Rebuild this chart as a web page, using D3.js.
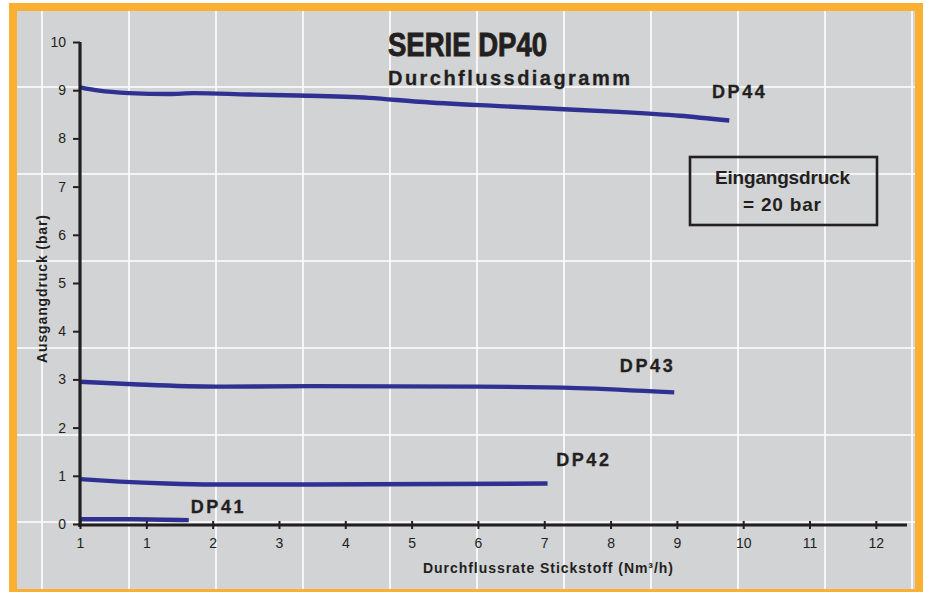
<!DOCTYPE html>
<html><head><meta charset="utf-8">
<script src="https://cdn.jsdelivr.net/npm/d3@7"></script>
<style>
body{margin:0;background:#fff}
svg{display:block}
text{font-family:"Liberation Sans Narrow","Arial Narrow","Liberation Sans",sans-serif;fill:#231f20}
</style>
</head><body><svg id="c" width="926" height="592"></svg>
<script>
// ---------- data ----------
const seriesNames = ["DP44", "DP43", "DP42", "DP41"];
const dp44X = [0, 0.29, 0.74, 1.34, 1.72, 2.55, 3.30, 4.36, 5.11, 6.32, 7.22, 8.13, 9.04, 9.79];
const dp44Y = [9.06, 8.99, 8.94, 8.92, 8.94, 8.91, 8.89, 8.84, 8.76, 8.67, 8.61, 8.55, 8.47, 8.37];
const dp43X = [0, 0.8, 2.05, 3.5, 6.0, 7.5, 8.96];
const dp43Y = [2.95, 2.90, 2.85, 2.86, 2.85, 2.82, 2.73];
const dp42X = [0, 0.6, 1.3, 2.0, 3.5, 5.5, 7.05];
const dp42Y = [0.93, 0.88, 0.84, 0.82, 0.82, 0.83, 0.84];
const dp41X = [0, 0.8, 1.64];
const dp41Y = [0.10, 0.10, 0.08];
const labelX = [9.53, 8.14, 7.18, 1.67];
const labelY = [8.84, 3.15, 1.20, 0.23];
const xTickValues = [0, 1, 2, 3, 4, 5, 6, 7, 8, 9, 10, 11, 12];
const xTickLabels = ["1", "1", "2", "3", "4", "5", "6", "7", "8", "9", "10", "11", "12"];
const yTickValues = [0, 1, 2, 3, 4, 5, 6, 7, 8, 9, 10];
const titleText = "SERIE DP40";
const subtitleText = "Durchflussdiagramm";
const xTitle = "Durchflussrate Stickstoff (Nm³/h)";
const yTitle = "Ausgangdruck (bar)";
const noteLines = ["Eingangsdruck", "= 20 bar"];

// ---------- setup ----------
const svg = d3.select("#c");
const W = 926, H = 592;
const orange = "#fbb034", panel = "#d1d3d4", ink = "#231f20", blue = "#2e3192";

svg.append("rect").attr("x", 0).attr("y", 0).attr("width", W).attr("height", H).attr("fill", "#fff");
svg.append("rect").attr("x", 9).attr("y", 3).attr("width", 914).attr("height", 600).attr("fill", orange);
const px0 = 17, py0 = 11, px1 = 915, py1 = 589;
svg.append("rect").attr("x", px0).attr("y", py0).attr("width", px1 - px0).attr("height", py1 - py0).attr("fill", panel);

// decorative background grid
const gStep = 87;
const gridG = svg.append("g").attr("stroke", "#fff").attr("stroke-width", 1.6);
d3.range(42, px1, gStep).forEach(gx => {
  gridG.append("line").attr("x1", gx).attr("x2", gx).attr("y1", py0).attr("y2", py1);
});
d3.range(87, py1, gStep).forEach(gy => {
  gridG.append("line").attr("x1", px0).attr("x2", px1).attr("y1", gy).attr("y2", gy);
});

// scales
const x = d3.scaleLinear().domain([0, 12.47]).range([80, 907]);
const y = d3.scaleLinear().domain([0, 10]).range([524, 42]);

// series lines
const seriesX = [dp44X, dp43X, dp42X, dp41X];
const seriesY = [dp44Y, dp43Y, dp42Y, dp41Y];
const line = d3.line().x(d => x(d[0])).y(d => y(d[1])).curve(d3.curveMonotoneX);
seriesNames.forEach((name, i) => {
  const pts = seriesX[i].map((v, j) => [v, seriesY[i][j]]);
  svg.append("path").datum(pts).attr("d", line)
    .attr("fill", "none").attr("stroke", blue).attr("stroke-width", 4.4)
    .attr("stroke-linecap", "butt").attr("stroke-linejoin", "round");
});

// y axis
const yAxis = svg.append("g").attr("transform", `translate(${x(0)},0)`)
  .call(d3.axisLeft(y).tickValues(yTickValues).tickSize(7).tickSizeOuter(0).tickPadding(7));
yAxis.select(".domain").attr("stroke", ink).attr("stroke-width", 3.2)
  .attr("d", `M0,${y(10)}V${y(0) + 3}`);
yAxis.selectAll(".tick line").attr("stroke", ink).attr("stroke-width", 2);
yAxis.selectAll(".tick text").attr("font-size", 14).attr("fill", ink)
  .style("font-family", '"Liberation Sans Narrow","Arial Narrow","Liberation Sans",sans-serif');

// x axis
const xAxis = svg.append("g").attr("transform", `translate(0,${y(0) + 1})`)
  .call(d3.axisBottom(x).tickValues(xTickValues).tickFormat((d, i) => xTickLabels[i]).tickSize(4).tickSizeOuter(0));
xAxis.select(".domain").attr("stroke", ink).attr("stroke-width", 3.2)
  .attr("d", `M${x(0) - 2},0H907`);
xAxis.selectAll(".tick line").attr("stroke", ink).attr("stroke-width", 2).attr("y1", -4).attr("y2", 4);
xAxis.selectAll(".tick text").attr("font-size", 14).attr("fill", ink).attr("y", 23).attr("dy", 0)
  .style("font-family", '"Liberation Sans Narrow","Arial Narrow","Liberation Sans",sans-serif');

// series labels
seriesNames.forEach((name, i) => {
  svg.append("text").attr("x", x(labelX[i])).attr("y", y(labelY[i]))
    .attr("font-size", 18).attr("font-weight", "bold").attr("letter-spacing", 2.6)
    .attr("stroke", ink).attr("stroke-width", 0.3)
    .text(name);
});

// title
svg.append("text").attr("x", 388).attr("y", 56).attr("font-size", 33).attr("font-weight", "bold")
  .attr("stroke", ink).attr("stroke-width", 0.9)
  .attr("textLength", 159).attr("lengthAdjust", "spacingAndGlyphs").text(titleText);
svg.append("text").attr("x", 388).attr("y", 85).attr("font-size", 20).attr("font-weight", "bold")
  .attr("stroke", ink).attr("stroke-width", 0.3)
  .attr("textLength", 242).attr("lengthAdjust", "spacing").text(subtitleText);

// note box
svg.append("rect").attr("x", 690).attr("y", 157).attr("width", 187).attr("height", 68)
  .attr("fill", "none").attr("stroke", ink).attr("stroke-width", 2.6);
svg.append("text").attr("x", 715).attr("y", 184).attr("font-size", 19).attr("font-weight", "bold")
  .attr("textLength", 135).attr("lengthAdjust", "spacing").text(noteLines[0]);
svg.append("text").attr("x", 743).attr("y", 211).attr("font-size", 19).attr("font-weight", "bold")
  .attr("textLength", 78).attr("lengthAdjust", "spacing").text(noteLines[1]);

// axis titles
svg.append("text").attr("x", 423).attr("y", 573).attr("font-size", 14).attr("font-weight", "bold")
  .attr("textLength", 250).attr("lengthAdjust", "spacing").text(xTitle);
svg.append("text").attr("transform", "translate(47,363) rotate(-90)").attr("font-size", 14).attr("font-weight", "bold")
  .attr("textLength", 148).attr("lengthAdjust", "spacing").text(yTitle);
</script>
</body></html>
